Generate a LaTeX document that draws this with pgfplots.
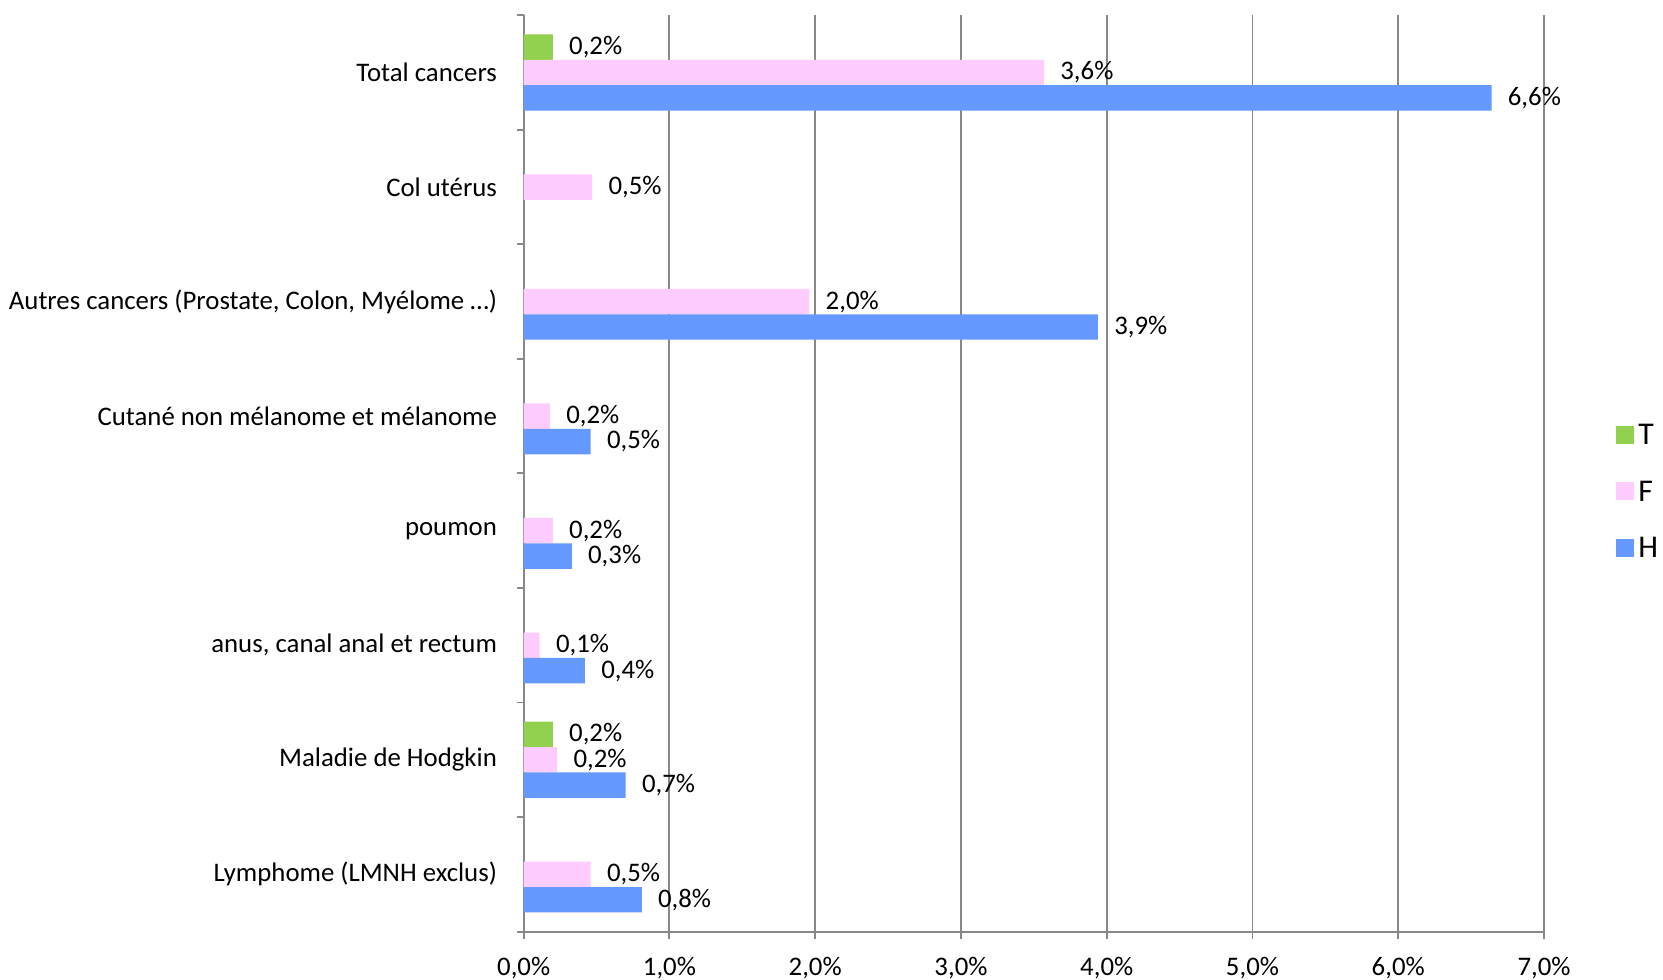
\documentclass[border=0pt]{standalone}
\usepackage{fontspec}
\setmainfont{Carlito}
\usepackage{pgfplots}
\pgfplotsset{compat=1.18}
\definecolor{cT}{HTML}{92D050}
\definecolor{cF}{HTML}{FFCCFF}
\definecolor{cH}{HTML}{6699FF}
\definecolor{gridgray}{HTML}{888888}

\begin{document}
\fontsize{11}{13.2}\selectfont
\begin{tikzpicture}
\begin{axis}[
    scale only axis,
    width=14.72cm,
    height=13.22cm,
    xbar,
    bar width=0.222,
    xmin=0, xmax=7,
    ymin=-0.5, ymax=7.5,
    axis x line*=bottom,
    axis y line*=left,
    axis line style={gridgray, line width=0.8pt},
    xtick={0,...,7},
    xticklabel={\pgfmathprintnumber[fixed,fixed zerofill,precision=1,use comma,assume math mode=true]{\tick}\%},
    xmajorgrids=true,
    grid style={gridgray, line width=0.8pt},
    ytick={0,...,7},
    yticklabels={
        Lymphome (LMNH exclus),
        Maladie de Hodgkin,
        {anus,  canal anal et rectum},
        poumon,
        Cutané non mélanome et mélanome,
        {Autres cancers (Prostate, Colon, Myélome …)},
        Col utérus,
        Total cancers},
    minor ytick={-0.5,0.5,...,7.5},
    tick align=outside,
    major tick length=0.1cm,
    minor tick length=0.1cm,
    major x tick style={gridgray, line width=0.8pt},
    major y tick style={draw=none},
    minor y tick style={gridgray, line width=0.8pt},
    yticklabel style={xshift=-0.15cm},
    xticklabel style={inner sep=0pt, yshift=-0.27cm},
    point meta=x,
    nodes near coords={\pgfmathprintnumber[fixed,fixed zerofill,precision=1,use comma,assume math mode=true]{\pgfplotspointmeta}\%},
    nodes near coords style={xshift=0.1cm, text=black},
    legend style={
        at={(1.0696,0.479)},
        anchor=west,
        draw=none,
        fill=none,
        row sep=0.316cm,
        inner sep=0pt,
        font=\fontsize{13}{15.6}\selectfont,
        cells={anchor=base west, inner sep=0pt, text height=0.3cm, text depth=0cm},
        /tikz/every even column/.append style={column sep=0.115cm},
    },
    legend image code/.code={\fill[#1] (0cm,0.01cm) rectangle (0.26cm,0.27cm);},
]
\addplot[fill=cT, draw=none, bar shift=0.222] coordinates {
    (0.20,7)
    (0.20,1)
};
\addplot[fill=cF, draw=none, bar shift=0] coordinates {
    (3.57,7)
    (0.47,6)
    (1.96,5)
    (0.18,4)
    (0.20,3)
    (0.11,2)
    (0.23,1)
    (0.46,0)
};
\addplot[fill=cH, draw=none, bar shift=-0.222] coordinates {
    (6.64,7)
    (3.94,5)
    (0.46,4)
    (0.33,3)
    (0.42,2)
    (0.70,1)
    (0.81,0)
};
\legend{T, F, H}
\end{axis}
\path (current axis.north) ++(0,0.22cm);
\end{tikzpicture}
\end{document}
